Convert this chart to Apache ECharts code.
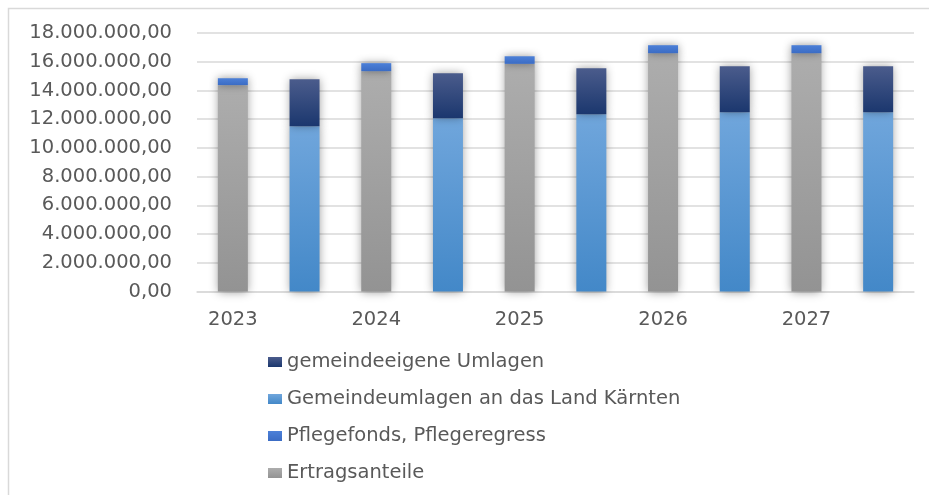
<!DOCTYPE html>
<html>
<head>
<meta charset="utf-8">
<script src="https://cdn.jsdelivr.net/npm/echarts@6/dist/echarts.min.js"></script>
<style>html,body{margin:0;padding:0;background:#fff}#c{width:929px;height:495px}</style>
</head>
<body>
<div id="c"></div>
<script>
const years = ['2023', '2024', '2025', '2026', '2027'];
const ertragsanteile = [14370000, 15340000, 15850000, 16590000, 16590000];
const pflegefonds = [480000, 560000, 530000, 560000, 560000];
const gemeindeumlagenLand = [11510000, 12070000, 12350000, 12490000, 12490000];
const gemeindeeigeneUmlagen = [3270000, 3130000, 3200000, 3200000, 3200000];
const yTicks = [0, 2000000, 4000000, 6000000, 8000000, 10000000, 12000000, 14000000, 16000000, 18000000];
const legendOrder = ['gemeindeeigene Umlagen', 'Gemeindeumlagen an das Land Kärnten', 'Pflegefonds, Pflegeregress', 'Ertragsanteile'];

// two bars per year: first = Ertragsanteile stack, second = Umlagen stack
const categories = [];
years.forEach(y => { categories.push(y + ' A'); categories.push(y + ' B'); });
function onFirst(arr) { const out = []; arr.forEach(v => { out.push(v); out.push('-'); }); return out; }
function onSecond(arr) { const out = []; arr.forEach(v => { out.push('-'); out.push(v); }); return out; }

function grad(top, bottom) {
  return new echarts.graphic.LinearGradient(0, 0, 0, 1, [{offset: 0, color: top}, {offset: 1, color: bottom}]);
}
function fmt(v) {
  const s = Math.round(v).toString().replace(/\B(?=(\d{3})+(?!\d))/g, '.');
  return s + ',00';
}
const FONT = 'DejaVu Sans';
const TXT = '#595959';
const FS = 19.5;
const shadow = {shadowBlur: 9, shadowColor: 'rgba(0,0,0,0.4)'};

const chart = echarts.init(document.getElementById('c'), null, {renderer: 'canvas'});
chart.setOption({
  animation: false,
  backgroundColor: '#fff',
  graphic: [{type: 'rect', shape: {x: 8.5, y: 8.5, width: 960, height: 520}, style: {fill: 'none', stroke: '#d9d9d9', lineWidth: 1.5}, silent: true, z: -1}],
  grid: {left: 197, right: 15, top: 33, bottom: 203.5},
  legend: {
    orient: 'vertical', left: 268, top: 352, padding: 0,
    data: legendOrder,
    icon: 'rect', itemWidth: 14, itemHeight: 10, itemTextGap: 8, itemGap: 17,
    textStyle: {fontFamily: FONT, fontSize: FS, color: TXT}
  },
  xAxis: {
    type: 'category', data: categories,
    axisLine: {lineStyle: {color: '#d9d9d9', width: 1.5}},
    axisTick: {show: false},
    axisLabel: {interval: 0, margin: 18, fontFamily: FONT, fontSize: FS, color: TXT,
      formatter: (v, i) => i % 2 === 0 ? v.split(' ')[0] : ''}
  },
  yAxis: {
    type: 'value', min: yTicks[0], max: yTicks[yTicks.length - 1], interval: 2000000,
    axisLine: {show: false}, axisTick: {show: false},
    splitLine: {lineStyle: {color: '#d9d9d9', width: 1.5}},
    axisLabel: {margin: 25, fontFamily: FONT, fontSize: FS, color: TXT, formatter: fmt}
  },
  series: [
    {name: 'Ertragsanteile', type: 'bar', stack: 's', barWidth: 30, data: onFirst(ertragsanteile),
      itemStyle: Object.assign({color: grad('#adadad', '#939393')}, shadow)},
    {name: 'Pflegefonds, Pflegeregress', type: 'bar', stack: 's', barWidth: 30, data: onFirst(pflegefonds),
      itemStyle: Object.assign({color: grad('#4c80d8', '#3b6cc4')}, shadow)},
    {name: 'Gemeindeumlagen an das Land Kärnten', type: 'bar', stack: 's', barWidth: 30, data: onSecond(gemeindeumlagenLand),
      itemStyle: Object.assign({color: grad('#70a6dc', '#4388c8')}, shadow)},
    {name: 'gemeindeeigene Umlagen', type: 'bar', stack: 's', barWidth: 30, data: onSecond(gemeindeeigeneUmlagen),
      itemStyle: Object.assign({color: grad('#4b5c8c', '#1b376e')}, shadow)}
  ]
});
</script>
</body>
</html>
